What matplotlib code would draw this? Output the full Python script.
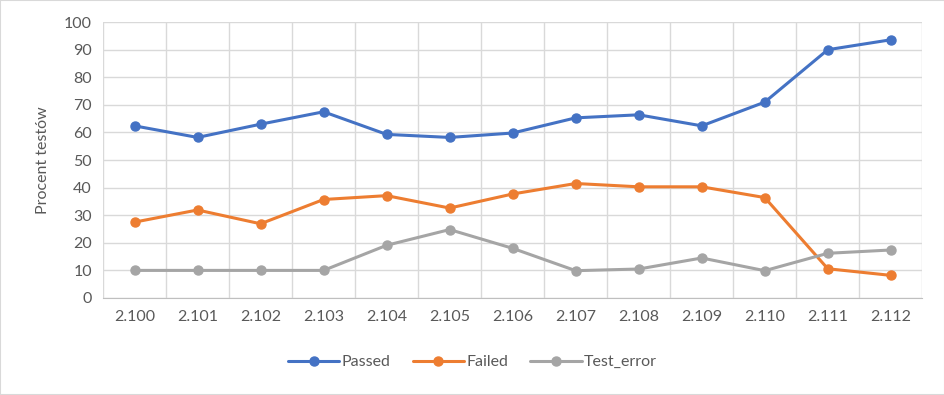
import matplotlib
matplotlib.use("Agg")
import matplotlib.pyplot as plt
from matplotlib.patches import Rectangle

categories = ["2.100", "2.101", "2.102", "2.103", "2.104", "2.105", "2.106",
              "2.107", "2.108", "2.109", "2.110", "2.111", "2.112"]
passed = [62.4, 58.2, 63.0, 67.5, 59.3, 58.2, 59.8, 65.3, 66.4, 62.4, 71.0, 90.0, 93.6]
failed = [27.5, 31.9, 26.9, 35.7, 37.1, 32.6, 37.7, 41.5, 40.3, 40.3, 36.4, 10.6, 8.2]
test_error = [10.0, 10.0, 10.0, 10.0, 19.1, 24.8, 18.0, 9.9, 10.5, 14.5, 9.9, 16.2, 17.4]
series_names = ["Passed", "Failed", "Test_error"]
y_ticks = list(range(0, 101, 10))

colors = ["#4472C4", "#ED7D31", "#A5A5A5"]
plt.rcParams['font.family'] = ['Lato', 'DejaVu Sans']
text_color = "#595959"

fig = plt.figure(figsize=(9.45, 3.95), dpi=100)
fig.patches.append(Rectangle((0, 0), 1, 1, transform=fig.transFigure, fill=False,
                             edgecolor="#D9D9D9", linewidth=1.5))
ax = fig.add_axes([0.109, 0.2456, 0.867, 0.6984])

x = list(range(len(categories)))
for vals, name, c in zip([passed, failed, test_error], series_names, colors):
    ax.plot(x, vals, color=c, linewidth=2.2, marker="o", markersize=6.5,
            label=name, solid_capstyle="round", zorder=3)

ax.set_xlim(-0.5, len(categories) - 0.5)
ax.set_ylim(0, 100)
ax.set_yticks(y_ticks)
ax.set_xticks(x)
ax.set_xticklabels(categories)
ax.set_xticks([i - 0.5 for i in range(len(categories) + 1)], minor=True)
ax.grid(True, which="major", axis="y", color="#D9D9D9", linewidth=1)
ax.grid(True, which="minor", axis="x", color="#D9D9D9", linewidth=1)
ax.tick_params(which="both", length=0)
ax.tick_params(axis="both", colors=text_color, labelsize=11.5)
ax.tick_params(axis="x", pad=9)
ax.tick_params(axis="y", pad=8)
for s in ["top", "right", "left"]:
    ax.spines[s].set_visible(False)
ax.spines["bottom"].set_color("#BFBFBF")
ax.set_axisbelow(True)

ax.set_ylabel("Procent testów", color=text_color, fontsize=11.5, labelpad=10)

leg = fig.legend(loc="center", bbox_to_anchor=(0.5, 0.083), ncol=3, frameon=False,
                 fontsize=11.5, handlelength=3.2, columnspacing=1.4, handletextpad=0.15)
for t in leg.get_texts():
    t.set_color(text_color)

fig.savefig("out.png", dpi=100)
